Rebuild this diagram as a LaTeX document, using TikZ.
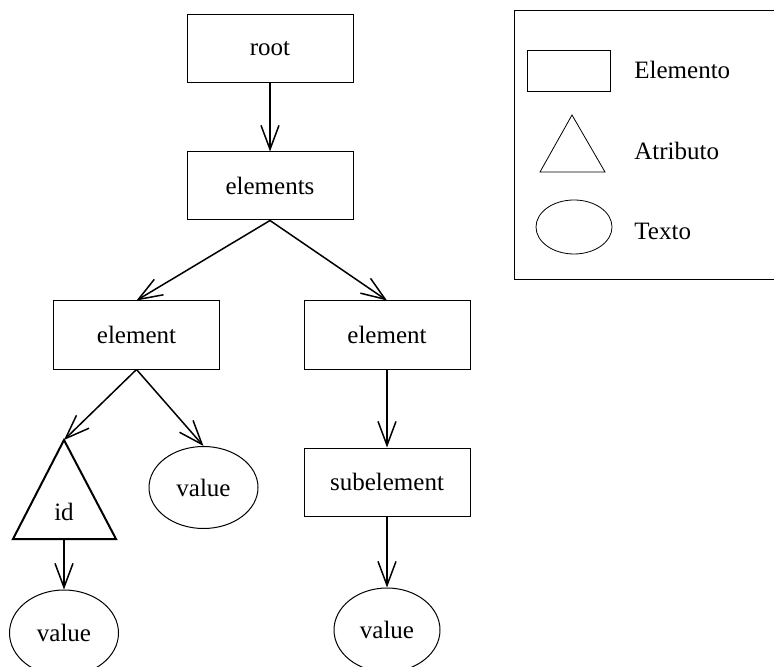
\documentclass[tikz,border=0pt]{standalone}
\usepackage{fontspec}
\setmainfont{Liberation Serif}
\usetikzlibrary{shapes.geometric,arrows.meta}

\begin{document}
\begin{tikzpicture}[x=0.5pt, y=-0.5pt,
    every node/.style={font=\fontsize{12.5}{15}\selectfont, inner sep=0pt},
    box/.style={draw, line width=0.5pt, minimum width=83pt, minimum height=34pt},
    txt/.style={draw, ellipse, line width=0.5pt, minimum width=54.5pt, minimum height=41pt},
    link/.style={-{Straight Barb[length=12pt,width=9pt]}, line width=0.75pt}]
    \useasboundingbox (0,0) rectangle (774,667);

    % --- Tree: root and its elements ---
    \node[box] (root) at (270,49) {root};
    \node[box] (elems) at (270,186) {elements};
    \node[box] (elL) at (136.5,335) {element};
    \node[box] (elR) at (387,335) {element};
    \draw[link] (root) -- (elems);
    \draw[link] (elems.south) -- (elL.north);
    \draw[link] (elems.south) -- (elR.north);

    % --- Left element: attribute id and its text ---
    \coordinate (idtop) at (64,440);
    \coordinate (idbot) at (64,539);
    \draw[line width=1pt] (idtop) -- (116,539) -- (13,539) -- cycle;
    \node (id) at (64,512) {id};
    \node[txt] (valM) at (203.5,487.5) {value};
    \node[txt, minimum height=43pt] (valL) at (64,633) {value};
    \draw[link] (elL.south) -- (idtop);
    \draw[link] (elL.south) -- (valM.north);
    \draw[link] (idbot) -- (valL.north);

    % --- Right element: subelement and its text ---
    \node[box] (sub) at (387,482) {subelement};
    \node[txt, minimum width=53pt, minimum height=42pt] (valR) at (387,630) {value};
    \draw[link] (elR) -- (sub);
    \draw[link] (sub) -- (valR);

    % --- Legend ---
    \draw[line width=0.5pt] (514,11) rectangle (778,280);
    \node[draw, line width=0.4pt, minimum width=41.5pt, minimum height=20.5pt] (lgbox) at (568.5,70.5) {};
    \draw[line width=0.4pt] (572,115) -- (605,172) -- (540,172) -- cycle;
    \node[draw, ellipse, line width=0.4pt, minimum width=38pt, minimum height=27pt] (lgell) at (574,227) {};
    \node[anchor=west] (lgA) at (634,70) {Elemento};
    \node[anchor=west] (lgB) at (634,151) {Atributo};
    \node[anchor=west] (lgC) at (634,231) {Texto};

\end{tikzpicture}
\end{document}
